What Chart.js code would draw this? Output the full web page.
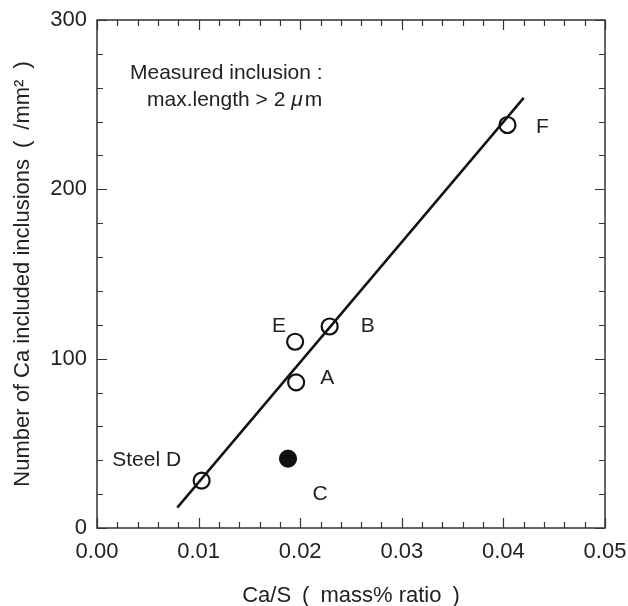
<!DOCTYPE html>
<html>
<head>
<meta charset="utf-8">
<script src="https://cdn.jsdelivr.net/npm/chart.js@4.4.1/dist/chart.umd.min.js"></script>
<style>
  html, body { margin: 0; padding: 0; background: #fff; }
  #wrap { width: 628px; height: 606px; }
</style>
</head>
<body>
<div id="wrap"><canvas id="caChart" width="628" height="606"></canvas></div>
<script>
// steels, Ca/S ratio and inclusion counts
const steels = ['A', 'B', 'C', 'Steel D', 'E', 'F'];
const caS = [0.0196, 0.0229, 0.0188, 0.0103, 0.0195, 0.0404];
const counts = [86, 119, 41, 28, 110, 238];
const filled = [false, false, true, false, false, false];
// label offsets in px relative to the point
const labelDx = [31, 38, 32, -55, -16, 35];
const labelDy = [-4, 0, 36, -20, -16, 2];

// regression line end points
const fitX = [0.0079, 0.0420];
const fitY = [12, 254];

const xTicks = [0, 0.01, 0.02, 0.03, 0.04, 0.05];
const yTicks = [0, 100, 200, 300];

const FONT = '"Liberation Sans", Arial, sans-serif';
const INK = '#222';
const SP = '\u2002';

const tickMarks = {
    id: 'tickMarks',
    afterDraw(chart) {
        const c = chart.ctx, a = chart.chartArea;
        const xs = chart.scales.x, ys = chart.scales.y;
        c.save();
        c.strokeStyle = '#333';
        c.lineWidth = 1.5;
        c.strokeRect(a.left, a.top, a.right - a.left, a.bottom - a.top);
        c.lineWidth = 1.2;
        c.beginPath();
        for (let i = 0; i <= 25; i++) {
            const px = Math.round(xs.getPixelForValue(i * 0.002)) + 0.5;
            const len = i % 5 === 0 ? 10 : 6;
            c.moveTo(px, a.bottom); c.lineTo(px, a.bottom - len);
            c.moveTo(px, a.top); c.lineTo(px, a.top + len);
        }
        for (let i = 0; i <= 15; i++) {
            const py = Math.round(ys.getPixelForValue(i * 20)) + 0.5;
            const len = i % 5 === 0 ? 10 : 6;
            c.moveTo(a.left, py); c.lineTo(a.left + len, py);
            c.moveTo(a.right, py); c.lineTo(a.right - len, py);
        }
        c.stroke();

        c.fillStyle = INK;
        c.font = '21px ' + FONT;
        c.textBaseline = 'middle';
        c.textAlign = 'center';
        steels.forEach((s, i) => {
            const px = xs.getPixelForValue(caS[i]) + labelDx[i];
            const py = ys.getPixelForValue(counts[i]) + labelDy[i];
            c.fillText(s, px, py);
        });

        c.textAlign = 'left';
        c.fillText('Measured inclusion :', 130, 73);
        const t = 'max.length > 2 ';
        c.fillText(t, 147, 100);
        let w = c.measureText(t).width;
        c.font = 'italic 21px ' + FONT;
        c.fillText('\u03bc', 147 + w, 100);
        w += c.measureText('\u03bc').width + 2;
        c.font = '21px ' + FONT;
        c.fillText('m', 147 + w, 100);
        c.restore();
    }
};

const ctx = document.getElementById('caChart').getContext('2d');
const caChart = new Chart(ctx, {
    type: 'scatter',
    data: {
        datasets: [
            {
                type: 'line',
                label: 'fit',
                data: fitX.map((x, i) => ({ x: x, y: fitY[i] })),
                borderColor: '#111',
                borderWidth: 2.5,
                pointRadius: 0,
                fill: false
            },
            {
                label: 'steels',
                data: caS.map((x, i) => ({ x: x, y: counts[i] })),
                pointRadius: 8,
                pointBorderWidth: 2.2,
                pointBorderColor: '#111',
                pointBackgroundColor: filled.map(f => f ? '#111' : '#fff')
            }
        ]
    },
    options: {
        responsive: false,
        animation: false,
        layout: { padding: { left: 0, top: 20, right: 23, bottom: 0 } },
        plugins: {
            legend: { display: false },
            tooltip: { enabled: false }
        },
        scales: {
            x: {
                type: 'linear',
                min: 0,
                max: 0.05,
                afterFit(s) { s.height = 78; s.paddingLeft = 0; s.paddingRight = 0; },
                afterBuildTicks(s) { s.ticks = xTicks.map(v => ({ value: v })); },
                grid: { display: false, drawTicks: false },
                border: { display: false },
                ticks: {
                    padding: 11,
                    color: INK,
                    font: { family: FONT, size: 22 },
                    maxRotation: 0,
                    callback: v => v.toFixed(2)
                },
                title: {
                    display: true,
                    text: 'Ca/S' + SP + '(' + SP + 'mass% ratio' + SP + ')',
                    color: INK,
                    font: { family: FONT, size: 22 },
                    padding: { top: 0, bottom: -3 }
                }
            },
            y: {
                type: 'linear',
                min: 0,
                max: 300,
                afterFit(s) { s.width = 97; s.paddingTop = 0; s.paddingBottom = 0; },
                afterBuildTicks(s) { s.ticks = yTicks.map(v => ({ value: v })); },
                grid: { display: false, drawTicks: false },
                border: { display: false },
                ticks: {
                    padding: 10,
                    color: INK,
                    font: { family: FONT, size: 22 }
                },
                title: {
                    display: true,
                    text: 'Number of Ca included inclusions' + SP + '(' + SP + '/mm\u00b2' + SP + ')',
                    color: INK,
                    font: { family: FONT, size: 22 },
                    padding: { top: 10, bottom: 0 }
                }
            }
        }
    },
    plugins: [tickMarks]
});
</script>
</body>
</html>
